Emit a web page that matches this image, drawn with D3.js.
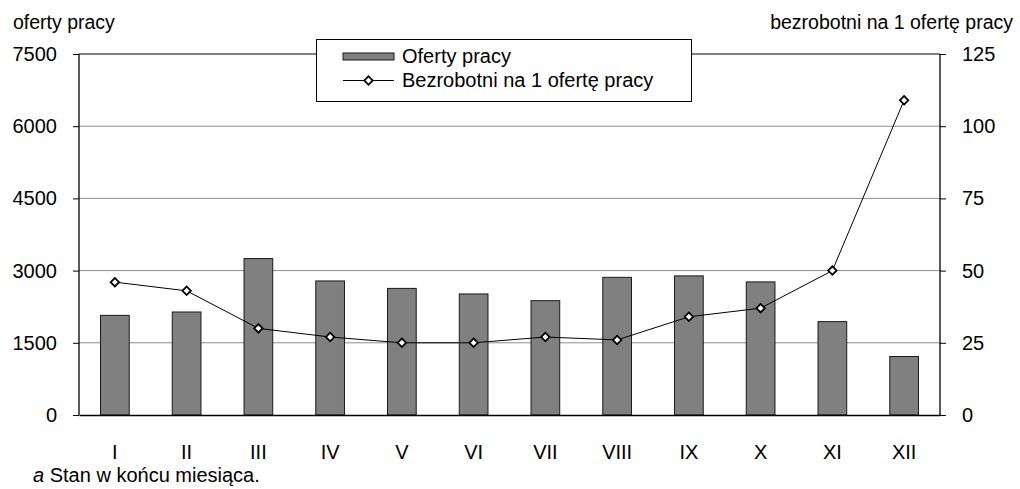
<!DOCTYPE html>
<html>
<head>
  <meta charset="utf-8">
  <title>Oferty pracy</title>
  <script src="https://d3js.org/d3.v7.min.js"></script>
  <style>
    body { margin: 0; background: #fff; }
    svg { display: block; font-family: "Liberation Sans", Arial, sans-serif; }
  </style>
</head>
<body>
  <svg id="chart" width="1020" height="489"></svg>

  <script>
    // data
    const months = ["I", "II", "III", "IV", "V", "VI", "VII", "VIII", "IX", "X", "XI", "XII"];
    const offers = [2070, 2140, 3250, 2785, 2630, 2515, 2375, 2860, 2890, 2765, 1940, 1215];
    const unemployedPerOffer = [46, 43, 30, 27, 25, 25, 27, 26, 34, 37, 50, 109];
    const leftTicks = [0, 1500, 3000, 4500, 6000, 7500];
    const rightTicks = [0, 25, 50, 75, 100, 125];

    const svg = d3.select("svg#chart");
    const margins = { top: 54, right: 80, bottom: 74, left: 79 };
    const width = +svg.attr("width");
    const height = +svg.attr("height");
    const plotW = width - margins.left - margins.right;
    const plotH = height - margins.top - margins.bottom;

    const plot = svg.append("g")
      .attr("transform", `translate(${margins.left},${margins.top})`);

    // scales
    const xScale = d3.scaleBand()
      .domain(months)
      .range([0, plotW])
      .paddingInner(0.6)
      .paddingOuter(0.3);
    const yLeft = d3.scaleLinear().domain([0, 7500]).range([plotH, 0]);
    const yRight = d3.scaleLinear().domain([0, 125]).range([plotH, 0]);

    // gridlines
    plot.append("g")
      .selectAll("line")
      .data(leftTicks.filter(d => d > 0))
      .join("line")
      .attr("x1", 0)
      .attr("x2", plotW)
      .attr("y1", d => yLeft(d))
      .attr("y2", d => yLeft(d))
      .attr("stroke", d => d === 7500 ? "#000" : "#8c8c8c")
      .attr("stroke-width", 1);

    // bars
    plot.append("g")
      .selectAll("rect")
      .data(offers)
      .join("rect")
      .attr("x", (d, i) => xScale(months[i]))
      .attr("y", d => yLeft(d))
      .attr("width", xScale.bandwidth())
      .attr("height", d => plotH - yLeft(d))
      .attr("fill", "#808080")
      .attr("stroke", "#1a1a1a")
      .attr("stroke-width", 1);

    // axes
    const leftAxis = d3.axisLeft(yLeft)
      .tickValues(leftTicks)
      .tickSize(6)
      .tickPadding(16)
      .tickFormat(d3.format("d"));
    const rightAxis = d3.axisRight(yRight)
      .tickValues(rightTicks)
      .tickSize(6)
      .tickPadding(16)
      .tickFormat(d3.format("d"));
    const bottomAxis = d3.axisBottom(xScale)
      .tickSize(0)
      .tickPadding(30);

    const gLeft = plot.append("g").call(leftAxis);
    const gRight = plot.append("g")
      .attr("transform", `translate(${plotW},0)`)
      .call(rightAxis);
    const gBottom = plot.append("g")
      .attr("transform", `translate(0,${plotH})`)
      .call(bottomAxis);

    [gLeft, gRight, gBottom].forEach(g => {
      g.select(".domain").attr("stroke", "#000").attr("stroke-width", 1.3);
      g.selectAll(".tick line").attr("stroke", "#000");
      g.selectAll("text")
        .attr("fill", "#000")
        .style("font-size", "20px")
        .style("font-family", "'Liberation Sans', Arial, sans-serif");
    });
    gLeft.select(".domain").attr("d", `M0,0V${plotH}`);
    gRight.select(".domain").attr("d", `M0,0V${plotH}`);

    // line series
    const line = d3.line()
      .x((d, i) => xScale(months[i]) + xScale.bandwidth() / 2)
      .y(d => yRight(d));

    plot.append("path")
      .attr("d", line(unemployedPerOffer))
      .attr("fill", "none")
      .attr("stroke", "#000")
      .attr("stroke-width", 1);

    const diamond = d3.symbol().type(d3.symbolSquare).size(36);
    plot.append("g")
      .selectAll("path")
      .data(unemployedPerOffer)
      .join("path")
      .attr("d", diamond)
      .attr("transform", (d, i) =>
        `translate(${xScale(months[i]) + xScale.bandwidth() / 2},${yRight(d)}) rotate(45)`)
      .attr("fill", "#fff")
      .attr("stroke", "#000")
      .attr("stroke-width", 1.8);

    // axis titles
    svg.append("text")
      .attr("x", 13)
      .attr("y", 29)
      .style("font-size", "19.5px")
      .text("oferty pracy");
    svg.append("text")
      .attr("x", 1013)
      .attr("y", 29)
      .attr("text-anchor", "end")
      .style("font-size", "19.5px")
      .text("bezrobotni na 1 ofertę pracy");

    // legend
    const legend = svg.append("g");
    legend.append("rect")
      .attr("x", 316.5)
      .attr("y", 39.5)
      .attr("width", 375)
      .attr("height", 62)
      .attr("fill", "#fff")
      .attr("stroke", "#000")
      .attr("stroke-width", 1);
    legend.append("rect")
      .attr("x", 343)
      .attr("y", 53)
      .attr("width", 51)
      .attr("height", 7)
      .attr("fill", "#808080")
      .attr("stroke", "#1a1a1a")
      .attr("stroke-width", 1);
    legend.append("text")
      .attr("x", 402)
      .attr("y", 63)
      .style("font-size", "20px")
      .text("Oferty pracy");
    legend.append("line")
      .attr("x1", 343)
      .attr("x2", 394)
      .attr("y1", 80.5)
      .attr("y2", 80.5)
      .attr("stroke", "#000")
      .attr("stroke-width", 1);
    legend.append("path")
      .attr("d", diamond)
      .attr("transform", "translate(368.5,80.5) rotate(45)")
      .attr("fill", "#fff")
      .attr("stroke", "#000")
      .attr("stroke-width", 1.8);
    legend.append("text")
      .attr("x", 402)
      .attr("y", 87)
      .style("font-size", "20px")
      .text("Bezrobotni na 1 ofertę pracy");

    // footnote
    const note = svg.append("text")
      .attr("x", 33)
      .attr("y", 482)
      .style("font-size", "20px");
    note.append("tspan").style("font-style", "italic").text("a");
    note.append("tspan").text(" Stan w końcu miesiąca.");
  </script>
</body>
</html>
